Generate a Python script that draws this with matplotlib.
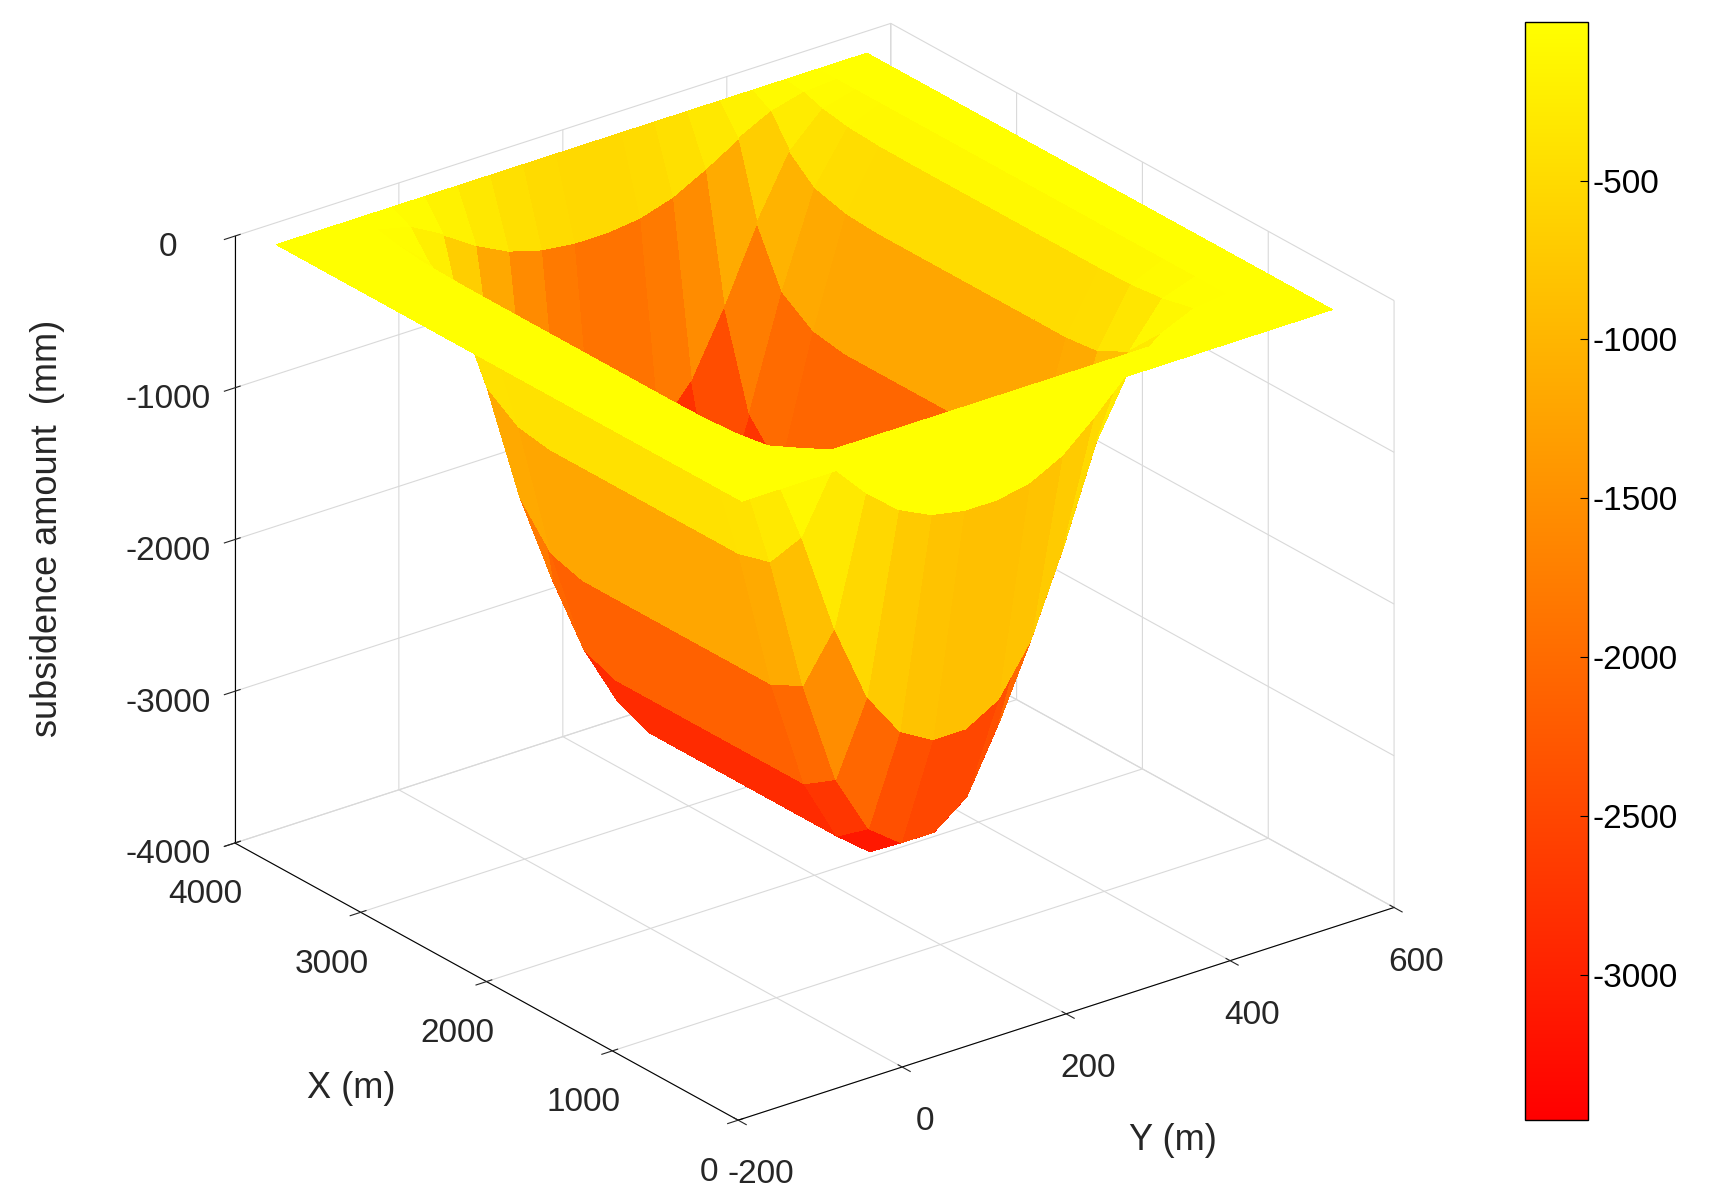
import numpy as np
import matplotlib
matplotlib.use("Agg")
import matplotlib.pyplot as plt
from matplotlib import cm, colors

# data
x_coords = [100, 300, 550, 800, 1050, 1300, 1550, 1800, 2050, 2300, 2550, 2800, 3050, 3300, 3500, 3650, 3800]
x_factor = [0.0, 0.0, 0.25, 0.72, 0.95, 1.0, 1.0, 1.0, 1.0, 1.0, 1.0, 1.0, 0.97, 0.85, 0.55, 0.15, 0.0]
y_coords = [-180, -150, -120, -80, -40, 0, 40, 80, 120, 160, 200, 240, 280, 320, 360, 400, 440, 480, 510, 530, 540]
y_factor = [0.0, 0.0, 0.0, 0.02, 0.12, 0.35, 0.62, 0.83, 0.95, 1.0, 1.0, 0.95, 0.82, 0.6, 0.35, 0.14, 0.03, 0.0, 0.0, 0.0, 0.0]
w_max = -3455
z_ticks = [0, -1000, -2000, -3000, -4000]
cbar_ticks = [-500, -1000, -1500, -2000, -2500, -3000]

X, Y = np.meshgrid(x_coords, y_coords)
Z = w_max * np.outer(y_factor, x_factor)

plt.rcParams['font.family'] = ['Arial', 'Liberation Sans', 'DejaVu Sans']
plt.rcParams['axes.unicode_minus'] = False
fig = plt.figure(figsize=(17.13, 12), dpi=100)
ax = fig.add_axes([-0.013, 0.010, 0.958, 1.0], projection='3d')
ax.set_proj_type('ortho')
norm = colors.Normalize(vmin=w_max, vmax=0)
cmap = plt.get_cmap('autumn')
fc = cmap(norm(Z))
ax.plot_surface(X, Y, Z, facecolors=fc, shade=False, linewidth=0, antialiased=False,
                rstride=1, cstride=1)
ax.view_init(elev=25, azim=-37.5)
ax.set_xlim(4000, 0); ax.set_ylim(-200, 600); ax.set_zlim(-4000, 0)
ax.set_xticks([0, 1000, 2000, 3000, 4000])
ax.set_yticks([-200, 0, 200, 400, 600])
ax.set_zticks(z_ticks)
ax.set_box_aspect((1, 1, 0.81), zoom=1.09)
ax.zaxis.set_ticks_position('lower')
for a in (ax.xaxis, ax.yaxis, ax.zaxis):
    a.set_pane_color((1, 1, 1, 0))
    a._axinfo['grid']['color'] = (0.85, 0.85, 0.85, 1)
    a._axinfo['grid']['linewidth'] = 0.8
ax.tick_params(labelsize=24, colors='#262626')
ax.tick_params(axis='x', pad=12)
ax.tick_params(axis='y', pad=12)
ax.tick_params(axis='z', pad=18)
fig.text(0.028, 0.56, 'subsidence amount  (mm)', fontsize=26, color='#262626',
         rotation=90, ha='center', va='center')
fig.text(0.205, 0.085, 'X (m)', fontsize=26, color='#262626', ha='center')
fig.text(0.685, 0.042, 'Y (m)', fontsize=26, color='#262626', ha='center')

cax = fig.add_axes([0.89, 0.067, 0.037, 0.915])
cb = fig.colorbar(cm.ScalarMappable(norm=norm, cmap=cmap), cax=cax, ticks=cbar_ticks)
cb.ax.tick_params(labelsize=24, length=6, direction='in')
cb.outline.set_linewidth(1)
fig.savefig('out.png', dpi=100)
